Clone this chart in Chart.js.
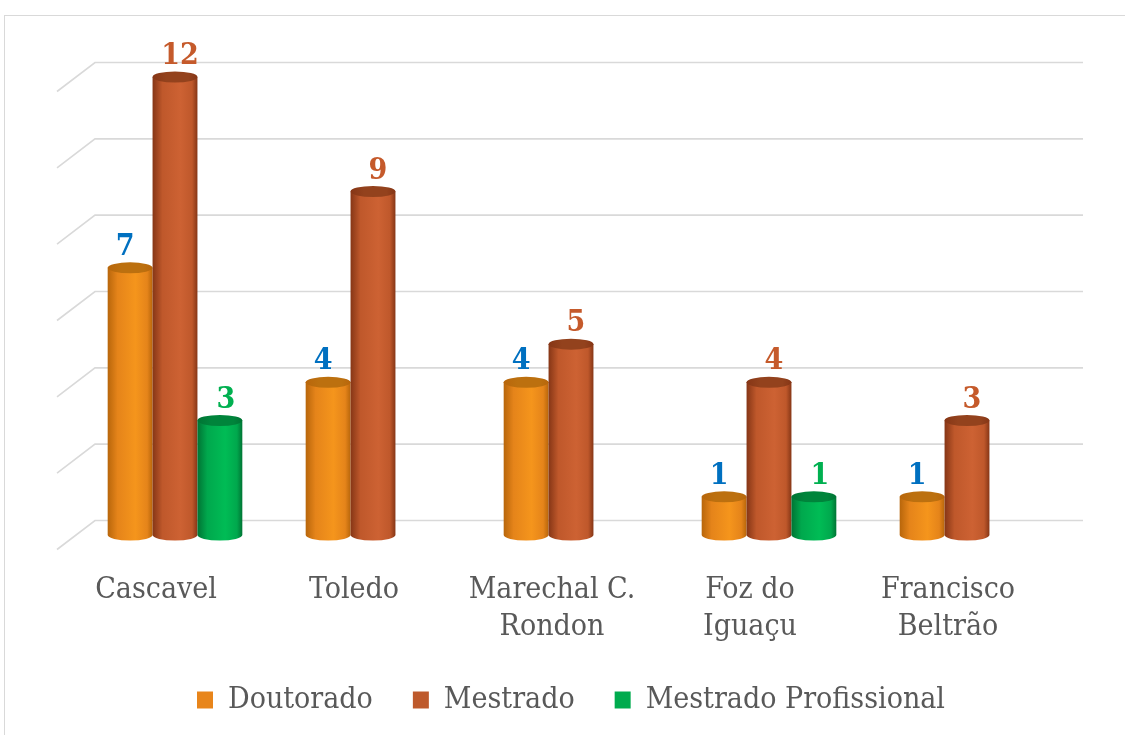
<!DOCTYPE html>
<html>
<head>
<meta charset="utf-8">
<script src="https://cdn.jsdelivr.net/npm/chart.js@4.4.1/dist/chart.umd.min.js"></script>
<style>
  html, body { margin: 0; padding: 0; background: #fff; overflow: hidden; }
  #frame { position: absolute; left: 4px; top: 15px; width: 1200px; height: 800px; border: 1px solid #d9d9d9; }
  #wrap { position: absolute; left: 0; top: 0; width: 1125px; height: 735px; }
</style>
</head>
<body>
<div id="frame"></div>
<div id="wrap"><canvas id="chart" width="1125" height="735"></canvas></div>
<script>
// --- DADOS ---
const campi = ['Cascavel', 'Toledo', ['Marechal C.', 'Rondon'], ['Foz do', 'Iguaçu'], ['Francisco', 'Beltrão']];
const doutorado = [7, 4, 4, 1, 1];
const mestrado = [12, 9, 5, 4, 3];
const mestradoProf = [3, null, null, 1, null];
const yTicks = [0, 2, 4, 6, 8, 10, 12];

const FONT = "'DejaVu Serif Condensed', 'Liberation Serif', serif";
const palette = [
  { legend: '#E8851A', dark: '#B8660B', base: '#E5841A', light: '#F5951C', top: '#BC700F', label: '#0070C0', dx: -5 },
  { legend: '#BE5A2C', dark: '#863616', base: '#BF582B', light: '#CD6233', top: '#93421D', label: '#C55A2B', dx: 5 },
  { legend: '#00AB4E', dark: '#007434', base: '#00A84D', light: '#00BC55', top: '#00843B', label: '#00B050', dx: 6 }
];
const DEPTH_X = 19, DEPTH_Y = 14.5, RY = 5.5;

function cylinder(ctx, x, top, base, w, c) {
  const l = x - w / 2, r = x + w / 2;
  const g = ctx.createLinearGradient(l, 0, r, 0);
  g.addColorStop(0, c.dark);
  g.addColorStop(0.22, c.base);
  g.addColorStop(0.62, c.light);
  g.addColorStop(0.88, c.base);
  g.addColorStop(1, c.dark);
  ctx.fillStyle = g;
  ctx.beginPath();
  ctx.moveTo(l, top);
  ctx.lineTo(l, base);
  ctx.ellipse(x, base, w / 2, RY, 0, Math.PI, 0, true);
  ctx.lineTo(r, top);
  ctx.closePath();
  ctx.fill();
  // tampa
  const gt = ctx.createLinearGradient(l, 0, r, 0);
  gt.addColorStop(0, c.dark);
  gt.addColorStop(0.3, c.top);
  gt.addColorStop(0.8, c.top);
  gt.addColorStop(1, c.dark);
  ctx.beginPath();
  ctx.ellipse(x, top, w / 2, RY, 0, 0, Math.PI * 2);
  ctx.fillStyle = gt;
  ctx.fill();
}

// parede de fundo + grade (deslocada em profundidade)
const wallGrid = {
  id: 'wallGrid',
  beforeDatasetsDraw(chart) {
    const { ctx, chartArea: a } = chart;
    const y = chart.scales.y;
    ctx.save();
    ctx.strokeStyle = '#D9D9D9';
    ctx.lineWidth = 1.6;
    yTicks.forEach(v => {
      const p = y.getPixelForValue(v);
      ctx.beginPath();
      ctx.moveTo(a.left - DEPTH_X, p + DEPTH_Y);
      ctx.lineTo(a.left + DEPTH_X, p - DEPTH_Y);
      ctx.lineTo(a.right + 17, p - DEPTH_Y);
      ctx.stroke();
    });
    ctx.restore();
  }
};

// cilindros + rótulos
const cylinders = {
  id: 'cylinders',
  afterDatasetsDraw(chart) {
    const ctx = chart.ctx;
    ctx.save();
    chart.data.datasets.forEach((ds, i) => {
      chart.getDatasetMeta(i).data.forEach((bar, j) => {
        if (ds.data[j] == null) return;
        cylinder(ctx, bar.x, bar.y, bar.base, bar.width, palette[i]);
      });
    });
    ctx.font = 'bold 30px ' + FONT;
    ctx.textAlign = 'center';
    ctx.textBaseline = 'alphabetic';
    chart.data.datasets.forEach((ds, i) => {
      ctx.fillStyle = palette[i].label;
      chart.getDatasetMeta(i).data.forEach((bar, j) => {
        if (ds.data[j] == null) return;
        ctx.fillText(String(ds.data[j]), bar.x + palette[i].dx, bar.y - 13);
      });
    });
    ctx.restore();
  }
};

new Chart(document.getElementById('chart'), {
  type: 'bar',
  data: {
    labels: campi,
    datasets: [
      { label: 'Doutorado', data: doutorado },
      { label: 'Mestrado', data: mestrado },
      { label: 'Mestrado Profissional', data: mestradoProf }
    ].map(d => Object.assign(d, {
      backgroundColor: 'rgba(0,0,0,0)',
      borderWidth: 0,
      categoryPercentage: 0.68,
      barPercentage: 1
    }))
  },
  options: {
    responsive: false,
    devicePixelRatio: 1,
    animation: false,
    layout: { padding: { left: 76, right: 59, top: 77, bottom: 10 } },
    plugins: {
      tooltip: { enabled: false },
      legend: {
        position: 'bottom',
        labels: {
          boxWidth: 16,
          boxHeight: 17,
          padding: 40,
          color: '#595959',
          font: { family: FONT, size: 30 },
          generateLabels: chart => chart.data.datasets.map((ds, i) => ({
            text: ds.label,
            fillStyle: palette[i].legend,
            strokeStyle: palette[i].legend,
            lineWidth: 0,
            fontColor: '#595959',
            hidden: false,
            datasetIndex: i
          }))
        }
      }
    },
    scales: {
      x: {
        grid: { display: false, drawTicks: false },
        border: { display: false },
        ticks: {
          color: '#595959',
          font: { family: FONT, size: 30, lineHeight: 1.23 },
          padding: 37,
          labelOffset: -19,
          maxRotation: 0,
          autoSkip: false
        },
        afterFit: s => { s.height = 110; }
      },
      y: { display: false, min: 0, max: 12 }
    }
  },
  plugins: [wallGrid, cylinders]
});
</script>
</body>
</html>
